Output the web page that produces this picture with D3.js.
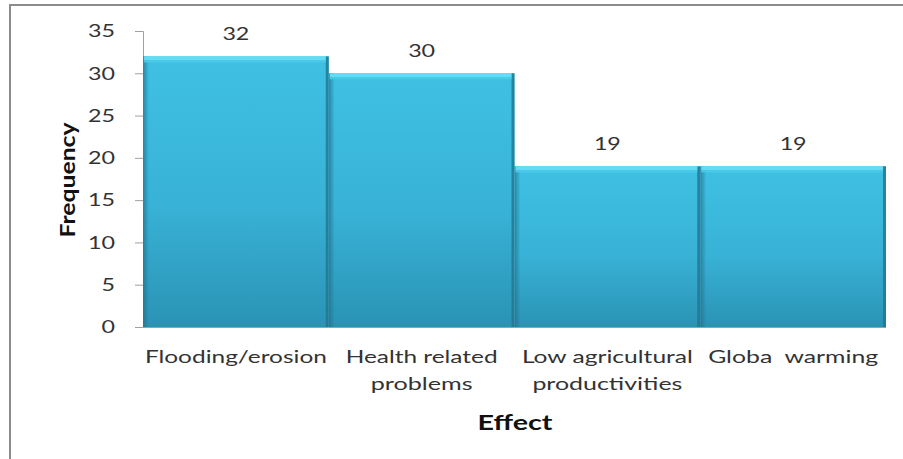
<!DOCTYPE html>
<html><head><meta charset="utf-8">
<script src="https://cdn.jsdelivr.net/npm/d3@7"></script>
<style>body{margin:0;background:#fff;} text{font-family:Lato, "Open Sans", sans-serif;}</style>
</head><body>
<svg id="c" width="903" height="459"></svg>
<script>
const categories = [["Flooding/erosion"],["Health related","problems"],["Low agricultural","productivities"],["Globa  warming"]];
const values = [32, 30, 19, 19];
const yTicks = [0,5,10,15,20,25,30,35];
const xTitle = "Effect";
const yTitle = "Frequency";

// approximate rendered widths of each text (to mimic the stretched Calibri look)
const labelWidths = [[182],[152,102],[171,150],[170]];

const svg = d3.select("#c");
const m = {l:143, r:886, t:31, b:327};
const defs = svg.append("defs");
const g1 = defs.append("linearGradient").attr("id","bar").attr("x1",0).attr("y1",0).attr("x2",0).attr("y2",1);
g1.append("stop").attr("offset","0%").attr("stop-color","#3fc1e3");
g1.append("stop").attr("offset","55%").attr("stop-color","#38b2d6");
g1.append("stop").attr("offset","100%").attr("stop-color","#2a93b4");
const g2 = defs.append("linearGradient").attr("id","side").attr("x1",0).attr("y1",0).attr("x2",1).attr("y2",0);
g2.append("stop").attr("offset","0%").attr("stop-color","#1d6f88").attr("stop-opacity",0.7);
g2.append("stop").attr("offset","100%").attr("stop-color","#1d6f88").attr("stop-opacity",0);

// frame
svg.append("line").attr("x1",10).attr("x2",903).attr("y1",5).attr("y2",5).attr("stroke","#8c8c8c").attr("stroke-width",2);
svg.append("line").attr("x1",10).attr("x2",10).attr("y1",4).attr("y2",459).attr("stroke","#8c8c8c").attr("stroke-width",2);

const x = d3.scaleBand().domain(d3.range(categories.length)).range([m.l, m.r]).padding(0);
const y = d3.scaleLinear().domain([0,35]).range([m.b, m.t]);

// y axis
const ya = svg.append("g").attr("transform",`translate(${m.l},0)`)
  .call(d3.axisLeft(y).tickValues(yTicks).tickSize(8).tickPadding(20));
ya.select(".domain").attr("stroke","#a0a0a0");
ya.selectAll(".tick line").attr("stroke","#a0a0a0");
ya.selectAll("text").attr("font-size",18).attr("fill","#333").attr("font-family","Lato, sans-serif")
  .attr("textLength", d => String(d).length*13.5).attr("lengthAdjust","spacingAndGlyphs");

// bars
const bars = svg.append("g");
values.forEach((v,i)=>{
  const x0 = x(i), w = x.bandwidth(), y0 = y(v), h = y(0)-y(v);
  bars.append("rect").attr("x",x0).attr("y",y0).attr("width",w).attr("height",h).attr("fill","url(#bar)");
  bars.append("rect").attr("x",x0).attr("y",y0).attr("width",6).attr("height",h).attr("fill","url(#side)");
  bars.append("rect").attr("x",x0+w-3).attr("y",y0).attr("width",3).attr("height",h).attr("fill","#1f7690").attr("opacity",0.8);
  bars.append("rect").attr("x",x0+1).attr("y",y0).attr("width",w-4).attr("height",4).attr("fill","#63dcf4");
  bars.append("rect").attr("x",x0+1).attr("y",y0+4).attr("width",w-4).attr("height",2).attr("fill","#4cc9ea");
  svg.append("text").attr("x",x0+w/2).attr("y",y0-16).attr("text-anchor","middle")
    .attr("font-size",18).attr("fill","#333")
    .attr("textLength", String(v).length*13.5).attr("lengthAdjust","spacingAndGlyphs").text(v);
});

// x baseline
svg.append("line").attr("x1",m.l-8).attr("x2",m.r).attr("y1",m.b+0.5).attr("y2",m.b+0.5).attr("stroke","#a0a0a0");

// x labels
categories.forEach((lines,i)=>{
  lines.forEach((l,j)=>{
    svg.append("text").attr("x",x(i)+x.bandwidth()/2).attr("y",363 + j*27).attr("text-anchor","middle")
      .attr("font-size",18).attr("fill","#333").style("white-space","pre")
      .attr("textLength", labelWidths[i][j]).attr("lengthAdjust","spacingAndGlyphs").text(l);
  });
});

svg.append("text").attr("x",515).attr("y",430).attr("text-anchor","middle").attr("font-size",20)
  .attr("font-weight","bold").attr("fill","#111")
  .attr("textLength",75).attr("lengthAdjust","spacingAndGlyphs").text(xTitle);
svg.append("text").attr("transform","translate(75,180) rotate(-90)").attr("text-anchor","middle")
  .attr("font-size",20).attr("font-weight","bold").attr("fill","#111")
  .attr("textLength",115).attr("lengthAdjust","spacingAndGlyphs").text(yTitle);
</script>
</body></html>
